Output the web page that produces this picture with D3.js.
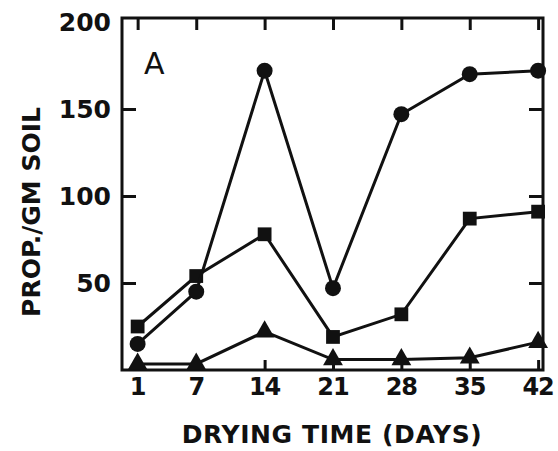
<!DOCTYPE html>
<html><head><meta charset="utf-8">
<script src="https://cdn.jsdelivr.net/npm/d3@7"></script>
<style>body{margin:0;background:#fff}svg{display:block}</style>
</head><body>
<script>
const days = [1, 7, 14, 21, 28, 35, 42];
const circleSeries = [15, 45, 172, 47, 147, 170, 172];
const squareSeries = [25, 54, 78, 19, 32, 87, 91];
const triangleSeries = [3.5, 3.5, 22, 6, 6, 7, 16];
const yTicks = [50, 100, 150, 200];
const xTickLabels = ["1", "7", "14", "21", "28", "35", "42"];

const W = 558, H = 451;
const L = 122, R = 543, T = 18, B = 370;
const svg = d3.select("body").append("svg").attr("width", W).attr("height", H);
const x = d3.scaleLinear().domain([-0.6, 42.5]).range([L, R]);
const y = d3.scaleLinear().domain([0, 200]).range([B, 22]);
const ink = "#111";
const font = "'DejaVu Sans', 'Liberation Sans', sans-serif";

// frame
svg.append("rect").attr("x", L).attr("y", T).attr("width", R - L).attr("height", B - T)
  .attr("fill", "none").attr("stroke", ink).attr("stroke-width", 3);

// axes ticks via d3 axes
const gl = svg.append("g").attr("transform", `translate(${L},0)`)
  .call(d3.axisRight(y).tickValues([50, 100, 150]).tickSize(14).tickFormat(""));
const gr = svg.append("g").attr("transform", `translate(${R},0)`)
  .call(d3.axisLeft(y).tickValues([50, 100, 150]).tickSize(14).tickFormat(""));
const gt = svg.append("g").attr("transform", `translate(0,${T})`)
  .call(d3.axisBottom(x).tickValues(days).tickSize(12).tickFormat(""));
const gb = svg.append("g").attr("transform", `translate(0,${B})`)
  .call(d3.axisTop(x).tickValues(days).tickSize(10).tickFormat(""));
[gl, gr, gt, gb].forEach(g => {
  g.select(".domain").remove();
  g.selectAll("line").attr("stroke", ink).attr("stroke-width", 3);
});

// tick labels
svg.append("g").selectAll("text").data(yTicks).join("text")
  .attr("x", 111).attr("y", d => y(d) + 9)
  .attr("text-anchor", "end").attr("font-family", font).attr("font-weight", "bold")
  .attr("font-size", 25).attr("fill", ink).text(d => d);
svg.append("g").selectAll("text").data(days).join("text")
  .attr("x", d => x(d)).attr("y", 395)
  .attr("text-anchor", "middle").attr("font-family", font).attr("font-weight", "bold")
  .attr("font-size", 24).attr("fill", ink).attr("letter-spacing", -1).text((d, i) => xTickLabels[i]);

// axis titles
svg.append("text").attr("x", 332).attr("y", 443).attr("text-anchor", "middle")
  .attr("font-family", font).attr("font-size", 25).attr("fill", ink).attr("font-weight", "bold")
  .attr("letter-spacing", 0.6)
  .text("DRYING TIME (DAYS)");
svg.append("text").attr("transform", "translate(40,212) rotate(-90)").attr("text-anchor", "middle")
  .attr("font-family", font).attr("font-size", 25).attr("fill", ink).attr("font-weight", "bold")
  .text("PROP./GM SOIL");
svg.append("text").attr("x", 144).attr("y", 74).attr("font-family", font)
  .attr("font-size", 30).attr("fill", ink).text("A");

const line = d3.line().x((d, i) => x(days[i])).y(d => y(d));
function drawSeries(vals, shape) {
  svg.append("path").datum(vals).attr("d", line).attr("fill", "none")
    .attr("stroke", ink).attr("stroke-width", 3);
  const sym = d3.symbol().type(shape === "circle" ? d3.symbolCircle : shape === "square" ? d3.symbolSquare : d3.symbolTriangle)
    .size(shape === "circle" ? 200 : shape === "square" ? 190 : 170);
  svg.append("g").selectAll("path").data(vals).join("path")
    .attr("transform", (d, i) => `translate(${x(days[i])},${y(d)})`)
    .attr("d", sym).attr("fill", ink);
}
drawSeries(triangleSeries, "triangle");
drawSeries(squareSeries, "square");
drawSeries(circleSeries, "circle");
</script>
</body></html>
